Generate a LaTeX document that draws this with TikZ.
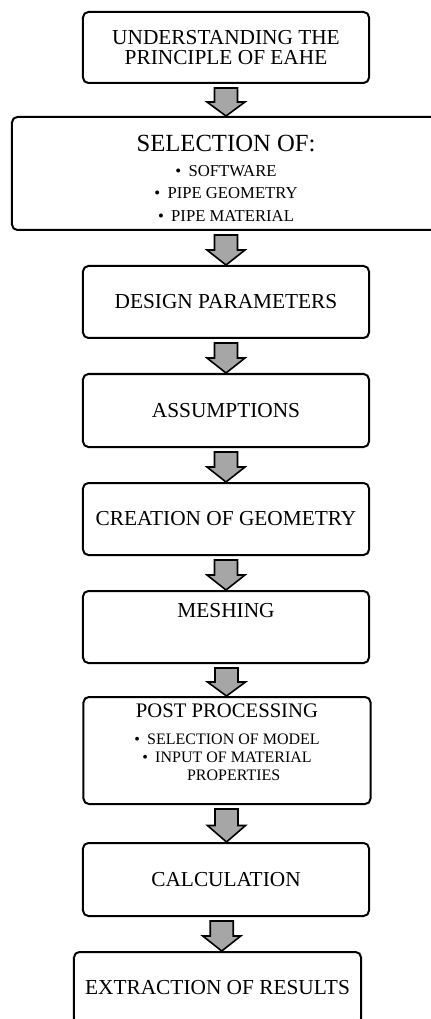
\documentclass[tikz,border=0pt]{standalone}
\usepackage{fontspec}
\setmainfont{Liberation Serif}
\usepackage{xcolor}
\usepackage{tikz}
\usetikzlibrary{positioning,calc}

\definecolor{arrowgray}{RGB}{166,166,166}

\tikzset{
    stage/.style={rectangle, draw, rounded corners=4pt, line width=1.5pt, minimum width=214.5pt, minimum height=54pt, align=center, inner sep=2pt, font=\fontsize{16}{15}\selectfont},
    blockarrow/.style={draw, line width=1.2pt, fill=arrowgray, line join=miter}
}

% bullet in front of a list line
\newcommand{\stagebullet}{\textbullet\hspace{5.5pt}}

% fat down arrow between two stages
\newcommand{\stagearrow}[2]{%
    \draw[blockarrow] let \p1=($(#1.south)!0.5!(#2.north)$), \p2=(#1.south), \p3=(#2.north) in
        (\x1-8.6pt,\y2-3pt) -- (\x1+8.6pt,\y2-3pt) -- (\x1+8.6pt,\y1-1.5pt) -- (\x1+14.25pt,\y1-1.5pt)
        -- (\x1,\y3) -- (\x1-14.25pt,\y1-1.5pt) -- (\x1-8.6pt,\y1-1.5pt) -- cycle;}

\begin{document}
\begin{tikzpicture}
    \useasboundingbox (-169.5pt,35.625pt) rectangle (153pt,-728.625pt);

    % Nodes
    \node [stage, minimum height=53.25pt] (principle) {UNDERSTANDING THE\\PRINCIPLE OF EAHE};
    \node [stage, minimum width=321pt, minimum height=84.75pt, font=\fontsize{12.5}{16.9}\selectfont, below=24pt of principle] (selection) {{\fontsize{18.5}{18.5}\selectfont\rule{0pt}{19.5pt}SELECTION OF:}\\[1.85pt] \stagebullet SOFTWARE\\ \stagebullet PIPE GEOMETRY\\ \stagebullet PIPE MATERIAL};
    \node [stage, below=25.5pt of selection] (design) {DESIGN PARAMETERS};
    \node [stage, minimum height=54.75pt, below=25.5pt of design] (assume) {ASSUMPTIONS};
    \node [stage, below=25.5pt of assume] (geometry) {CREATION OF GEOMETRY};
    \node [stage, text height=11pt, text depth=24.8pt, below=25.5pt of geometry] (mesh) {MESHING};
    \node [stage, minimum width=215.25pt, minimum height=80.25pt, font=\fontsize{12}{13.7}\selectfont, below=24pt of mesh, xshift=0.75pt] (post) {{\fontsize{15.5}{15.5}\selectfont POST PROCESSING}\\[6.3pt] \stagebullet SELECTION OF MODEL\\ \stagebullet INPUT OF MATERIAL\\ \hspace*{10pt}PROPERTIES\rule[-12.2pt]{0pt}{0pt}};
    \node [stage, minimum height=54.75pt, below=27.75pt of post, xshift=-0.75pt] (calculation) {CALCULATION};
    \node [stage, minimum width=215.25pt, below=25.5pt of calculation, xshift=-6.375pt] (extract) {EXTRACTION OF RESULTS};

    % Arrows
    \stagearrow{principle}{selection}
    \stagearrow{selection}{design}
    \stagearrow{design}{assume}
    \stagearrow{assume}{geometry}
    \stagearrow{geometry}{mesh}
    \stagearrow{mesh}{post}
    \stagearrow{post}{calculation}
    \stagearrow{calculation}{extract}
\end{tikzpicture}
\end{document}
